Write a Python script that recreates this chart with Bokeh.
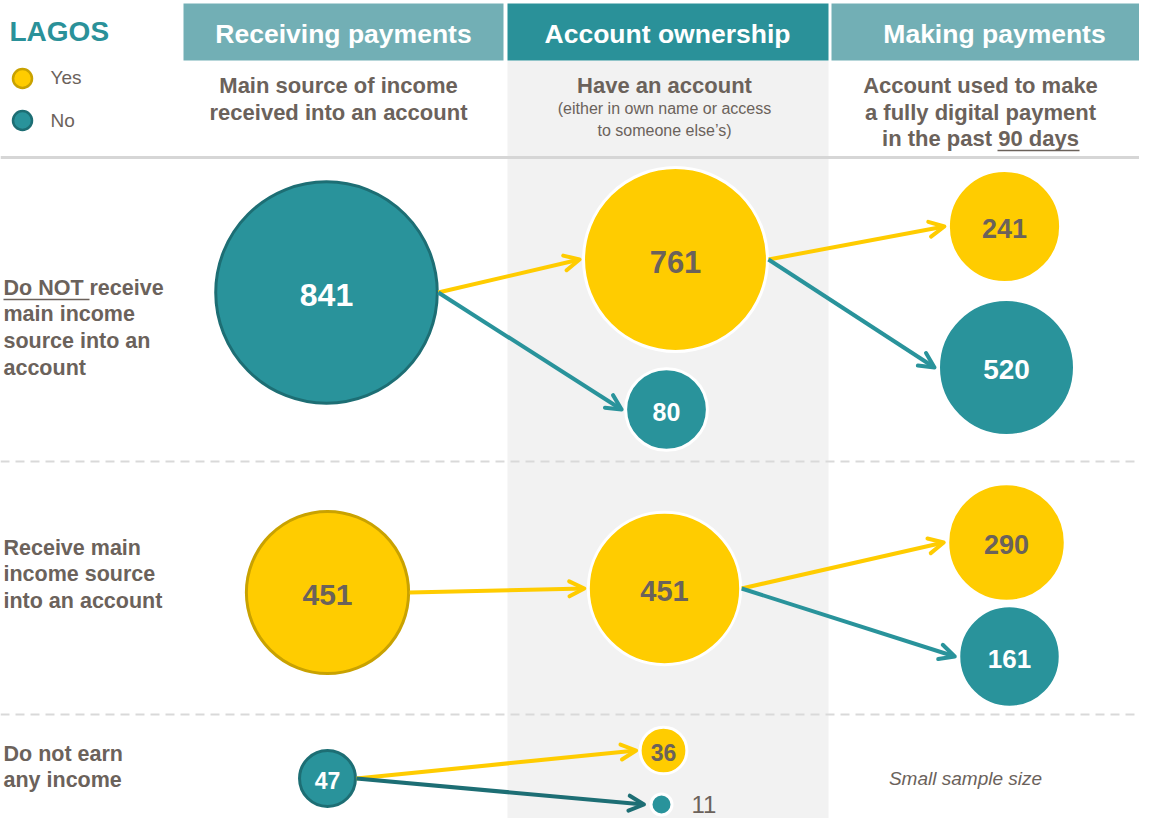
from bokeh.plotting import figure
from bokeh.models import Range1d, Arrow, OpenHead
from bokeh.core.properties import value
from bokeh.embed import file_html
from bokeh.resources import INLINE

# ---------------- data ----------------
title = "LAGOS"
legend_labels = ["Yes", "No"]
stage_titles = ["Receiving payments", "Account ownership", "Making payments"]
stage_subtitles = [
    ["Main source of income", "received into an account"],
    ["Have an account"],
    ["Account used to make", "a fully digital payment", "in the past 90 days"],
]
stage_notes = ["(either in own name or access", "to someone else\u2019s)"]
row_labels = [
    ["Do NOT receive", "main income", "source into an", "account"],
    ["Receive main", "income source", "into an account"],
    ["Do not earn", "any income"],
]
small_note = "Small sample size"

receive_values = [841, 451, 47]
receive_status = ["No", "Yes", "No"]
own_values = [761, 80, 451, 36, 11]
own_status = ["Yes", "No", "Yes", "Yes", "No"]
pay_values = [241, 520, 290, 161]
pay_status = ["Yes", "No", "Yes", "No"]

flows = [
    (("receive", 0), ("own", 0)),
    (("receive", 0), ("own", 1)),
    (("own", 0), ("pay", 0)),
    (("own", 0), ("pay", 1)),
    (("receive", 1), ("own", 2)),
    (("own", 2), ("pay", 2)),
    (("own", 2), ("pay", 3)),
    (("receive", 2), ("own", 3)),
    (("receive", 2), ("own", 4)),
]

# ---------------- layout & style ----------------
W, H = 1139, 818
X0, Y0 = 0, 0
YELLOW, YELLOW_DK = "#FFCC00", "#C9A200"
TEAL, TEAL_DK = "#29939B", "#1D6E74"
HDR_LIGHT, HDR_DARK = "#72AFB5", "#2A9199"
TXT = "#6B625B"
BAND = "#F2F2F2"
FONT = value("Liberation Sans")

POS = {
    "receive": [(326, 292), (327, 592), (327, 778)],
    "own": [(675, 259), (666, 409), (664, 588), (663, 750), (661, 804)],
    "pay": [(1004, 226), (1006, 367), (1006, 542), (1009, 656)],
}
# radius scale r = k * v**p per group
SCALES = {"c1": (3.82, 0.5), "c2": (8.44, 0.36), "c3": (14.24, 0.25), "small": (2.08, 0.675)}
GROUP = {
    "receive": ["c1", "c1", "small"],
    "own": ["c2", "c2", "c2", "small", "small"],
    "pay": ["c3", "c3", "c3", "c3"],
}
VALUES = {"receive": receive_values, "own": own_values, "pay": pay_values}
STATUS = {"receive": receive_status, "own": own_status, "pay": pay_status}


def radius(col, i):
    k, p_ = SCALES[GROUP[col][i]]
    return k * VALUES[col][i] ** p_


p = figure(width=W, height=H, output_backend="svg", toolbar_location=None,
           x_range=Range1d(X0, X0 + W), y_range=Range1d(Y0 + H, Y0),
           min_border=0, outline_line_color=None, background_fill_color="white")
p.axis.visible = False
p.grid.visible = False


def txt(x, y, s, size, color=TXT, bold=False, align="left", italic=False):
    style = "bold" if bold else "normal"
    if italic:
        style = "italic"
    p.text(x=[x], y=[y], text=[s], text_font=FONT, text_font_size=f"{size}px",
           text_color=color, text_font_style=style, text_align=align,
           text_baseline="middle")


# gray band behind middle column
p.quad(left=[507], right=[828], top=[60], bottom=[840], fill_color=BAND, line_color=None)

# header boxes
hdr_left = [183, 507, 831]
hdr_right = [503, 828, 1160]
hdr_cols = [HDR_LIGHT, HDR_DARK, HDR_LIGHT]
p.quad(left=hdr_left, right=hdr_right, top=[3, 3, 3], bottom=[60, 60, 60],
       fill_color=hdr_cols, line_color=None)
hdr_cx = [343, 667, 994]
for i, t in enumerate(stage_titles):
    txt(hdr_cx[i], 33, t, 26.5, "white", True, "center")

# title + legend
txt(9, 31, title, 28, "#2A9199", True)
p.scatter(x=[22, 22], y=[78, 120], size=19, fill_color=[YELLOW, TEAL],
          line_color=[YELLOW_DK, TEAL_DK], line_width=2.5)
txt(50, 77, legend_labels[0], 19, TXT)
txt(50, 120, legend_labels[1], 19, TXT)

# subtitles
sub_cx = [338, 664, 980]
for i, lines in enumerate(stage_subtitles):
    for j, s in enumerate(lines):
        txt(sub_cx[i], 85 + j * 26.5, s, 22, TXT, True, "center")
for j, s in enumerate(stage_notes):
    txt(664, 108 + j * 22, s, 16, TXT, False, "center")
p.segment(x0=[997], y0=[150], x1=[1079], y1=[150], line_color=TXT, line_width=1.6)

# separators
p.segment(x0=[0], y0=[157], x1=[1160], y1=[157], line_color="#D6D6D6", line_width=3)
p.segment(x0=[0, 0], y0=[461, 714], x1=[1160, 1160], y1=[461, 714],
          line_color="#D9D9D9", line_width=2, line_dash="9 6")

# row labels
row_y0 = [287, 547, 753]
for r, lines in enumerate(row_labels):
    for j, s in enumerate(lines):
        txt(3, row_y0[r] + j * 26.8, s, 21.5, TXT, True)
p.segment(x0=[3], y0=[299], x1=[89], y1=[299], line_color=TXT, line_width=1.6)

# arrows
for (sc, si), (tc, ti) in flows:
    sx, sy = POS[sc][si]
    tx, ty = POS[tc][ti]
    sr, tr = radius(sc, si), radius(tc, ti)
    col = YELLOW if STATUS[tc][ti] == "Yes" else TEAL
    if sc == "receive" and GROUP[sc][si] == "small" and STATUS[tc][ti] == "No":
        col = TEAL_DK
    gap = 4 if tr > 15 else 7
    p.add_layout(Arrow(end=OpenHead(size=15, line_color=col, line_width=4,
                                    line_cap="round", line_join="round"),
                       x_start=sx + sr + 1, y_start=sy, x_end=tx - tr - gap, y_end=ty,
                       line_color=col, line_width=4))

# nodes
for col in ["receive", "own", "pay"]:
    xs = [pt[0] for pt in POS[col]]
    ys = [pt[1] for pt in POS[col]]
    rs = [radius(col, i) for i in range(len(xs))]
    fills = [YELLOW if s == "Yes" else TEAL for s in STATUS[col]]
    if col == "receive":
        lines = [YELLOW_DK if s == "Yes" else TEAL_DK for s in STATUS[col]]
    else:
        lines = ["white"] * len(xs)
    p.circle(x=xs, y=ys, radius=rs, fill_color=fills, line_color=lines, line_width=3)
    for i, v in enumerate(VALUES[col]):
        r = rs[i]
        if r < 15:
            txt(xs[i] + r + 32, ys[i], str(v), 24, TXT, False, "center")
        else:
            fs = min(32, 20 + 0.12 * r)
            c = TXT if STATUS[col][i] == "Yes" else "white"
            txt(xs[i], ys[i] + 2, str(v), round(fs), c, True, "center")

txt(965, 778, small_note, 19, TXT, italic=True, align="center")

open("out.html", "w").write(file_html(p, INLINE))
